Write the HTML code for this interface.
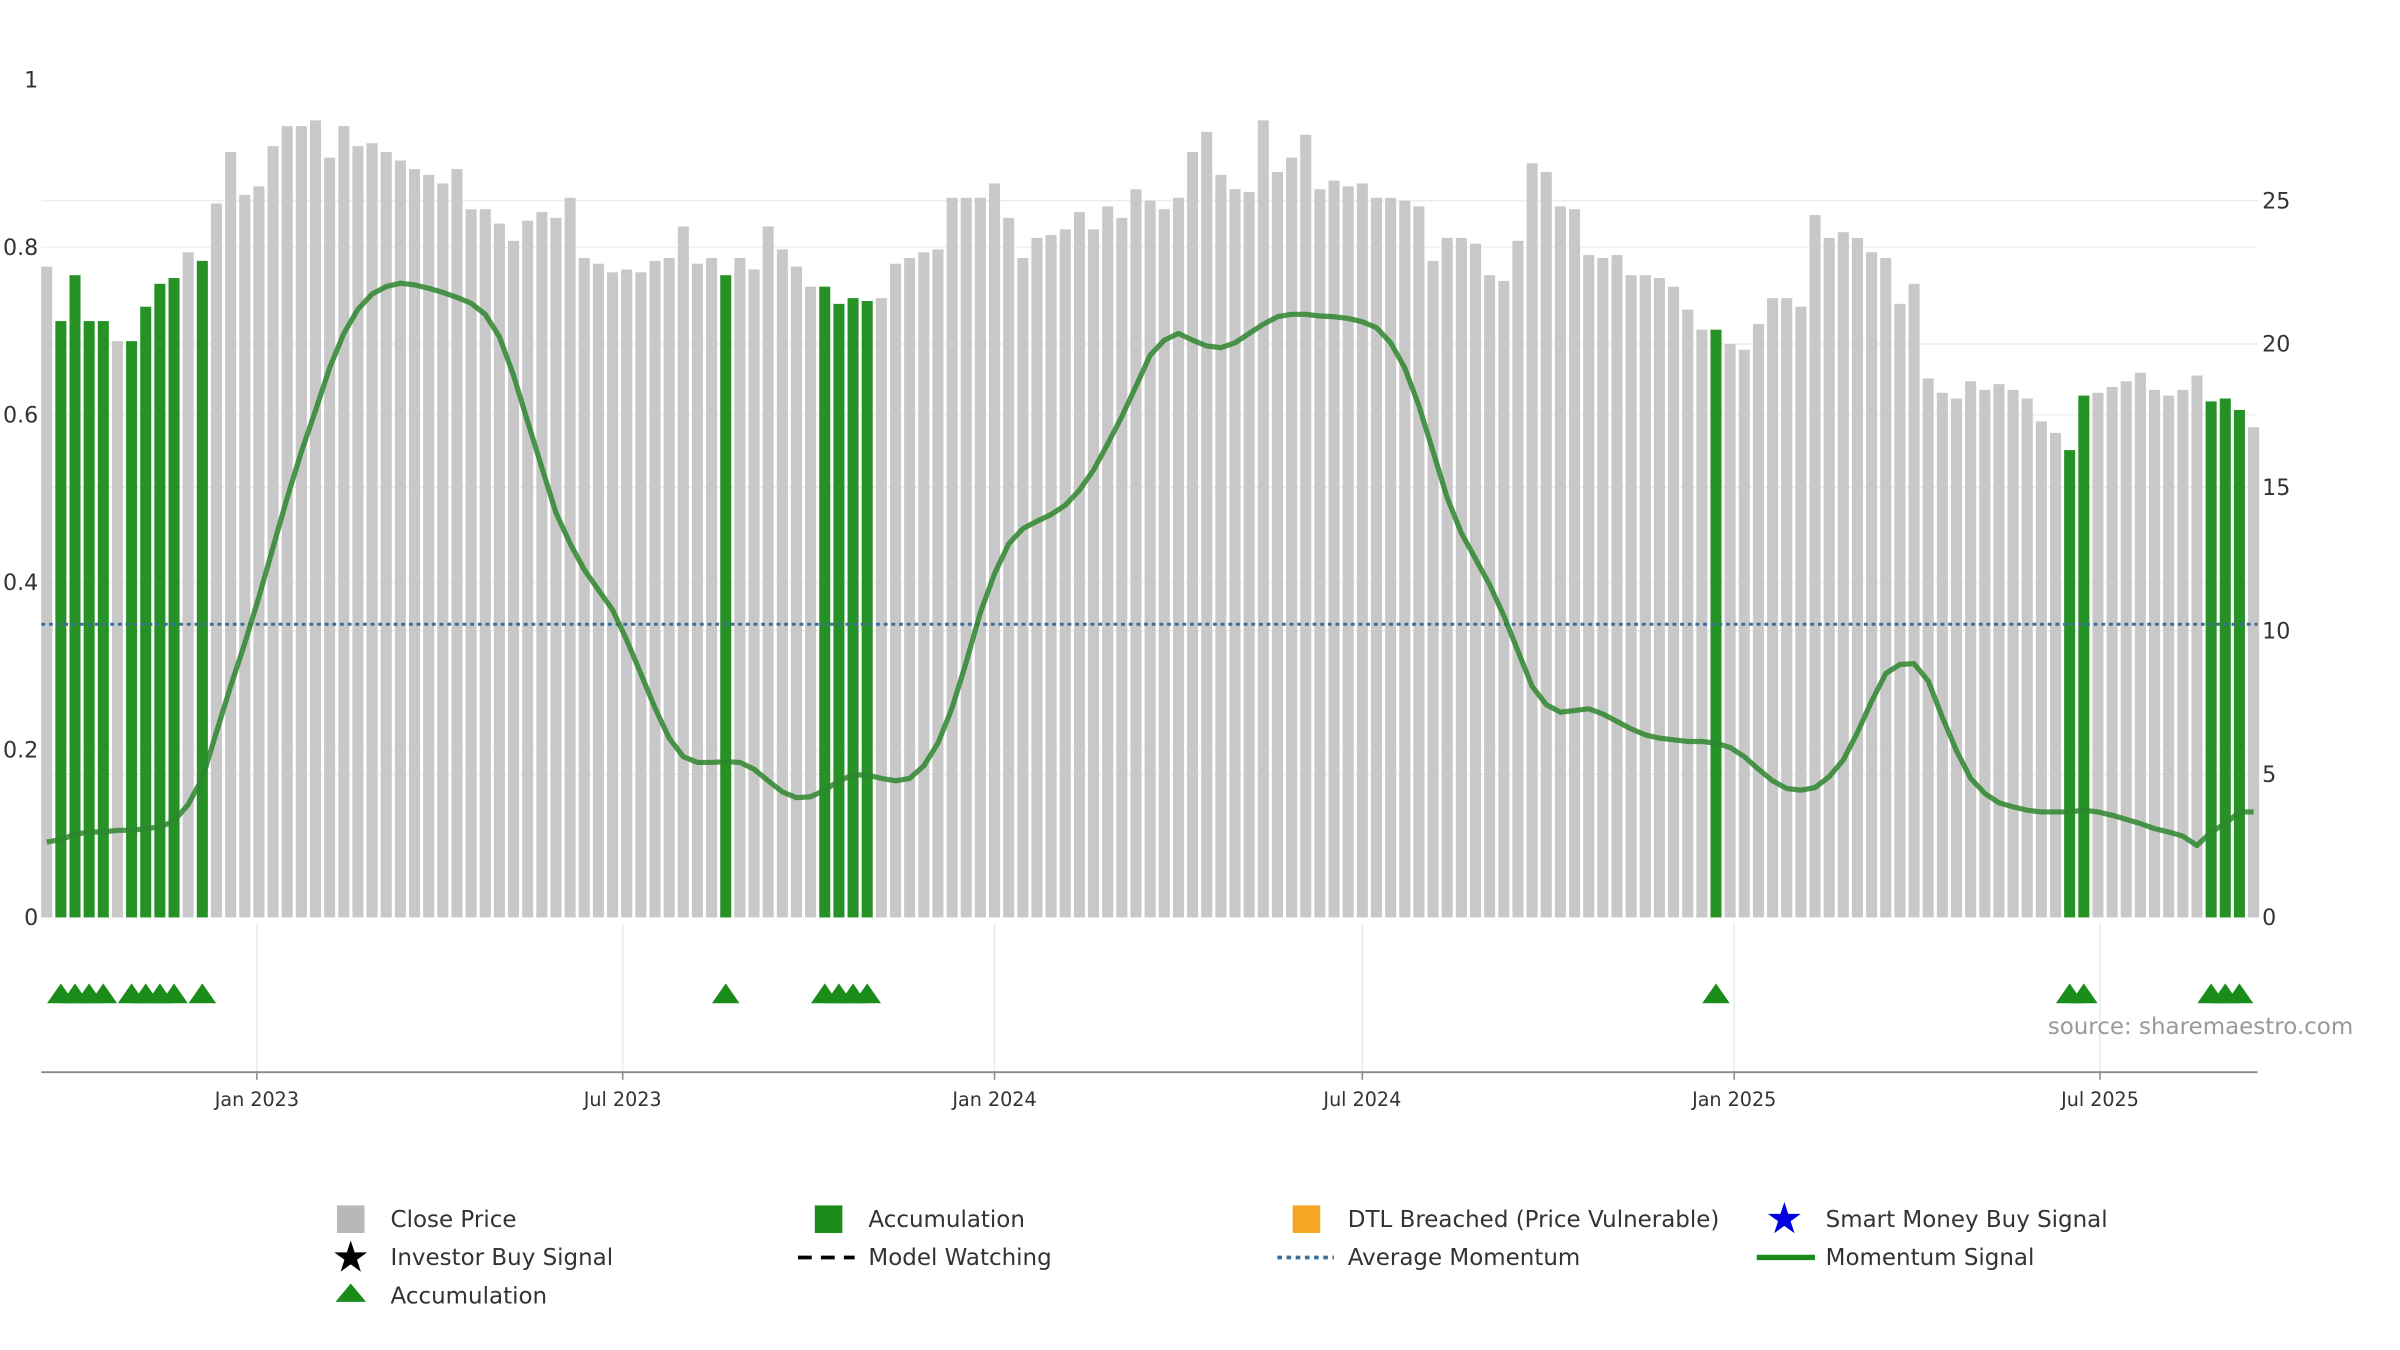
<!DOCTYPE html>
<html><head><meta charset="utf-8"><style>
html,body{margin:0;padding:0;background:#fff;}
svg{display:block;font-family:"DejaVu Sans","Liberation Sans",sans-serif;}
</style></head><body>
<svg id="chart" width="2400" height="1350" viewBox="0 0 1567 881.4" preserveAspectRatio="none" xmlns="http://www.w3.org/2000/svg">
<g id="grid"></g>
<g id="bars"></g>
<g id="lines"></g>
<g id="tri"></g>
<g id="axes"></g>
<text x="1337" y="675" font-size="15" fill="#999">source: sharemaestro.com</text>
<g id="legend" font-size="15" fill="#333">
 <g><rect x="220" y="787" width="18" height="18" fill="#b8b8b8"/><text x="255" y="801">Close Price</text></g>
 <g><rect x="532" y="787" width="18" height="18" fill="#1a8c1a"/><text x="567" y="801">Accumulation</text></g>
 <g><rect x="844" y="787" width="18" height="18" fill="#f5a623"/><text x="880" y="801">DTL Breached (Price Vulnerable)</text></g>
 <g><text x="1165" y="805" font-size="28" fill="#0000e0" text-anchor="middle">★</text><text x="1192" y="801">Smart Money Buy Signal</text></g>
 <g><text x="229" y="830" font-size="28" fill="#000" text-anchor="middle">★</text><text x="255" y="826">Investor Buy Signal</text></g>
 <g><line x1="521" y1="821" x2="558" y2="821" stroke="#000" stroke-width="2.5" stroke-dasharray="9,6"/><text x="567" y="826">Model Watching</text></g>
 <g><line x1="834" y1="821" x2="871" y2="821" stroke="#3b6f9a" stroke-width="2.5" stroke-dasharray="3,3"/><text x="880" y="826">Average Momentum</text></g>
 <g><line x1="1147" y1="821" x2="1185" y2="821" stroke="#1a8c1a" stroke-width="3.5"/><text x="1192" y="826">Momentum Signal</text></g>
 <g><polygon points="219,850 239,850 229,838" fill="#1a8c1a"/><text x="255" y="851">Accumulation</text></g>
</g>
</svg>
<script>
const prices=[22.7,20.8,22.4,20.8,20.8,20.1,20.1,21.3,22.1,22.3,23.2,22.9,24.9,26.7,25.2,25.5,26.9,27.6,27.6,27.8,26.5,27.6,26.9,27.0,26.7,26.4,26.1,25.9,25.6,26.1,24.7,24.7,24.2,23.6,24.3,24.6,24.4,25.1,23.0,22.8,22.5,22.6,22.5,22.9,23.0,24.1,22.8,23.0,22.4,23.0,22.6,24.1,23.3,22.7,22.0,22.0,21.4,21.6,21.5,21.6,22.8,23.0,23.2,23.3,25.1,25.1,25.1,25.6,24.4,23.0,23.7,23.8,24.0,24.6,24.0,24.8,24.4,25.4,25.0,24.7,25.1,26.7,27.4,25.9,25.4,25.3,27.8,26.0,26.5,27.3,25.4,25.7,25.5,25.6,25.1,25.1,25.0,24.8,22.9,23.7,23.7,23.5,22.4,22.2,23.6,26.3,26.0,24.8,24.7,23.1,23.0,23.1,22.4,22.4,22.3,22.0,21.2,20.5,20.5,20.0,19.8,20.7,21.6,21.6,21.3,24.5,23.7,23.9,23.7,23.2,23.0,21.4,22.1,18.8,18.3,18.1,18.7,18.4,18.6,18.4,18.1,17.3,16.9,16.3,18.2,18.3,18.5,18.7,19.0,18.4,18.2,18.4,18.9,18.0,18.1,17.7,17.1];
const accumWeeks=[1,2,3,4,6,7,8,9,11,48,55,56,57,58,118,143,144,153,154,155];
const momentum=[0.090,0.093,0.099,0.102,0.102,0.104,0.104,0.106,0.108,0.115,0.135,0.166,0.221,0.276,0.327,0.382,0.442,0.501,0.556,0.605,0.656,0.697,0.726,0.744,0.753,0.757,0.755,0.751,0.746,0.740,0.733,0.720,0.693,0.647,0.592,0.537,0.483,0.446,0.415,0.391,0.367,0.331,0.291,0.250,0.214,0.192,0.185,0.185,0.186,0.185,0.177,0.163,0.150,0.143,0.144,0.152,0.163,0.170,0.170,0.166,0.163,0.166,0.181,0.208,0.250,0.305,0.364,0.410,0.446,0.464,0.473,0.481,0.492,0.510,0.534,0.565,0.598,0.634,0.671,0.689,0.697,0.689,0.682,0.680,0.686,0.697,0.708,0.717,0.720,0.720,0.718,0.717,0.715,0.711,0.704,0.686,0.656,0.611,0.556,0.501,0.459,0.428,0.397,0.360,0.318,0.276,0.254,0.245,0.247,0.249,0.243,0.234,0.225,0.218,0.214,0.212,0.210,0.210,0.208,0.203,0.192,0.177,0.163,0.154,0.152,0.155,0.168,0.188,0.221,0.258,0.291,0.302,0.303,0.282,0.239,0.199,0.166,0.148,0.137,0.132,0.128,0.126,0.126,0.126,0.128,0.126,0.122,0.117,0.112,0.106,0.102,0.097,0.086,0.102,0.112,0.126,0.126];
const avgMomentum=0.35;
const leftTicks=[0,0.2,0.4,0.6,0.8,1];
const leftTickLabels=["0","0.2","0.4","0.6","0.8","1"];
const rightTicks=[0,5,10,15,20,25];
const dateTicks=["2023-01-01","2023-07-01","2024-01-01","2024-07-01","2025-01-01","2025-07-01"];
const dateTickLabels=["Jan 2023","Jul 2023","Jan 2024","Jul 2024","Jan 2025","Jul 2025"];
const startDate="2022-09-19";

const NS="http://www.w3.org/2000/svg";
const X0=30.5,PXDAY=1.3195,Y0=599,Y1=52,L=27,R=1474;
const t0=Date.parse(startDate);
const xDay=d=>X0+(Date.parse(d)-t0)/864e5*PXDAY;
const xWeek=i=>X0+i*7*PXDAY;
const yL=v=>Y0-v*(Y0-Y1);
const yR=v=>Y0-v*18.72;
function mk(tag,attrs,parent){const e=document.createElementNS(NS,tag);for(const k in attrs)e.setAttribute(k,attrs[k]);parent.appendChild(e);return e;}
const grid=document.getElementById('grid'),bars=document.getElementById('bars'),lines=document.getElementById('lines'),tri=document.getElementById('tri'),axes=document.getElementById('axes');

rightTicks.forEach(v=>{if(v>0){const g=mk('line',{x1:L,x2:R,y1:yR(v),y2:yR(v),stroke:'#ececec','stroke-width':1},grid);

}});
leftTicks.forEach(v=>{if(v>0&&v<1){const g=mk('line',{x1:L,x2:R,y1:yL(v),y2:yL(v),stroke:'#f2f2f2','stroke-width':1},grid);

}});
dateTicks.forEach(d=>{const g=mk('line',{x1:xDay(d),x2:xDay(d),y1:603,y2:700,stroke:'#ececec','stroke-width':1},grid);

});

prices.forEach((p,i)=>{const acc=accumWeeks.includes(i);
const b=mk('rect',{x:xWeek(i)-3.6,y:yR(p),width:7.2,height:Y0-yR(p),fill:acc?'#1a8c1a':'#c8c8c8','fill-opacity':acc?0.95:1},bars);

});

const avg=mk('line',{x1:L,x2:R,y1:yL(avgMomentum),y2:yL(avgMomentum),stroke:'#3b6f9a','stroke-width':2,'stroke-dasharray':'2.5,2.5'},lines);


const pts=momentum.map((m,i)=>xWeek(i).toFixed(1)+','+yL(m).toFixed(1)).join(' ');
const ml=mk('polyline',{points:pts,fill:'none',stroke:'#2e862e','stroke-width':3.4,'stroke-opacity':0.85,'stroke-linejoin':'round'},lines);



accumWeeks.forEach(i=>{const x=xWeek(i);
const t=mk('polygon',{points:`${x-9},655 ${x+9},655 ${x},642`,fill:'#1a8c1a'},tri);

});

const ax=mk('line',{x1:L,x2:R,y1:700,y2:700,stroke:'#888','stroke-width':1.2},axes);


leftTicks.forEach((v,k)=>{const t=mk('text',{x:25,y:yL(v)+5,'font-size':14.5,fill:'#333','text-anchor':'end'},axes);t.textContent=leftTickLabels[k];

});
rightTicks.forEach(v=>{const t=mk('text',{x:1477,y:yR(v)+5,'font-size':14.5,fill:'#333'},axes);t.textContent=String(v);

});
dateTicks.forEach((d,k)=>{const x=xDay(d);
const tk=mk('line',{x1:x,x2:x,y1:700,y2:705,stroke:'#888'},axes);


const t=mk('text',{x:x,y:722,'font-size':12.5,fill:'#333','text-anchor':'middle'},axes);t.textContent=dateTickLabels[k];

});
</script>
</body></html>
